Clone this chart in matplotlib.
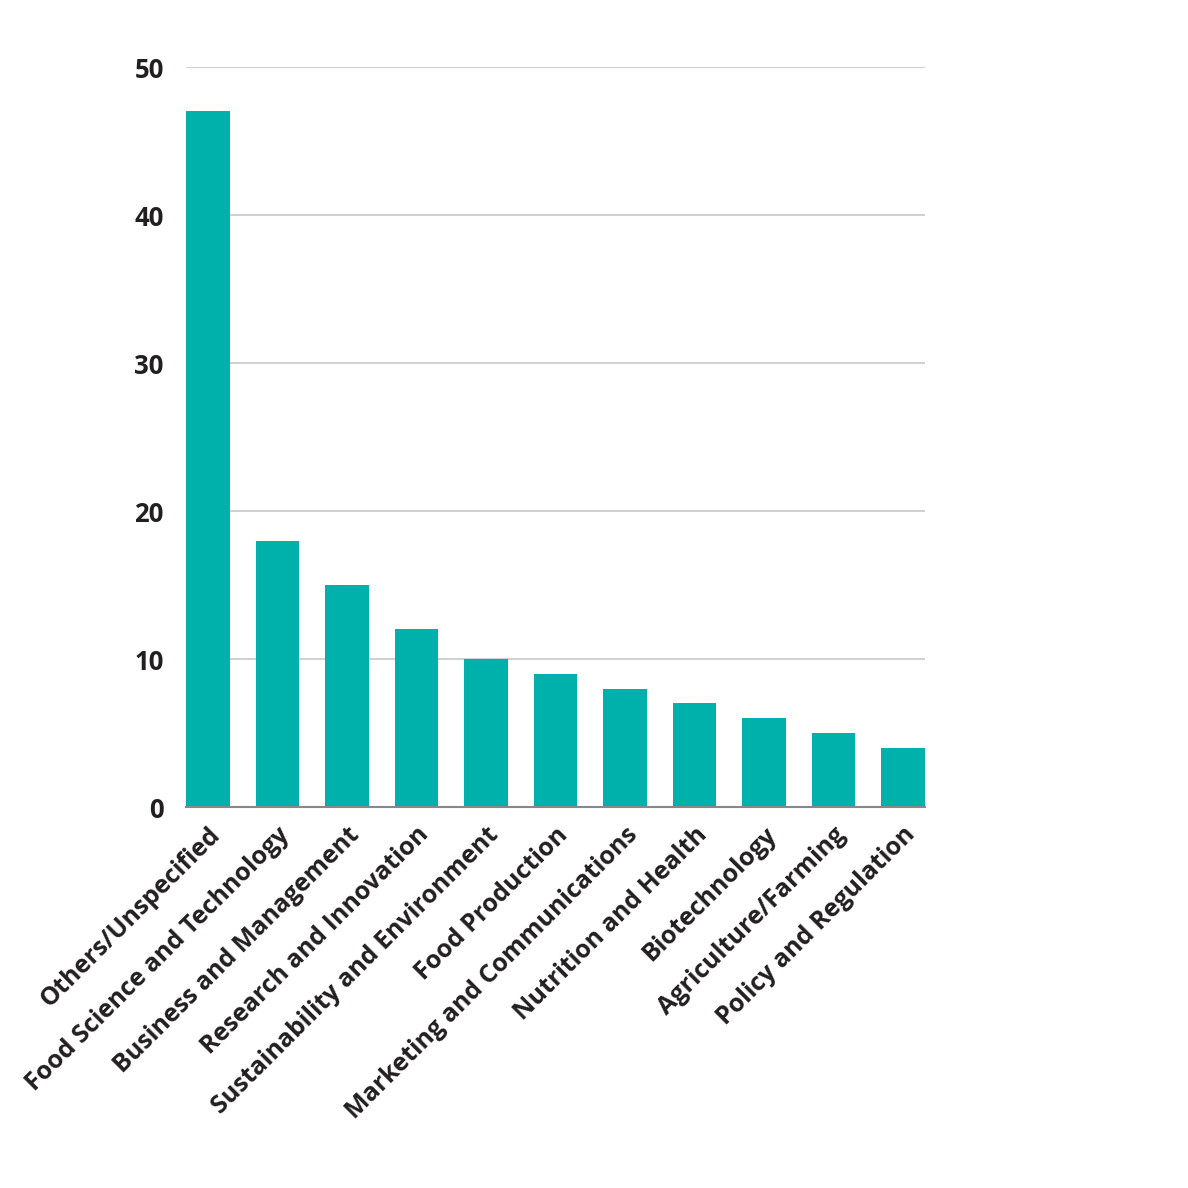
import matplotlib
matplotlib.use("Agg")
import matplotlib.pyplot as plt
import numpy as np

categories = ["Others/Unspecified", "Food Science and Technology", "Business and Management",
              "Research and Innovation", "Sustainability and Environment", "Food Production",
              "Marketing and Communications", "Nutrition and Health", "Biotechnology",
              "Agriculture/Farming", "Policy and Regulation"]
counts = [47, 18, 15, 12, 10, 9, 8, 7, 6, 5, 4]
yticks = [0, 10, 20, 30, 40, 50]

plt.rcParams['font.family'] = ['Open Sans', 'DejaVu Sans']
txt = '#231f20'

fig = plt.figure(figsize=(11.88, 11.88), dpi=100)
ax = fig.add_axes([0.1566, 0.3207, 0.622, 0.6229])

x = np.arange(len(categories))
ax.bar(x, counts, width=0.63, color='#00b0aa', zorder=3)
ax.set_xlim(-0.315, len(categories) - 1 + 0.315)
ax.set_ylim(0, 50)

ax.set_yticks(yticks)
ax.set_yticklabels([str(v) for v in yticks], fontsize=18.5, fontweight='bold', color=txt)
ax.yaxis.grid(True, color='#d0d0d0', linewidth=1.4, zorder=0)
ax.tick_params(axis='y', length=0, pad=16)

ax.set_xticks(x)
ax.set_xticklabels(categories, rotation=45, ha='right', va='top', rotation_mode='anchor',
                   fontsize=18, fontweight='bold', color=txt)
ax.tick_params(axis='x', length=0, pad=11)

for s in ['top', 'right', 'left']:
    ax.spines[s].set_visible(False)
ax.spines['bottom'].set_color('#888888')
ax.spines['bottom'].set_linewidth(1.5)
ax.spines['bottom'].set_zorder(4)

fig.savefig('out.png', dpi=100)
